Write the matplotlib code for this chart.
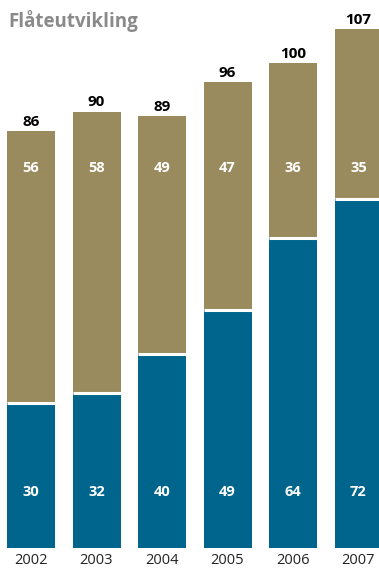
import matplotlib
matplotlib.use("Agg")
import matplotlib.pyplot as plt
import numpy as np

# Data
years = ["2002", "2003", "2004", "2005", "2006", "2007"]
blue_vals = [30, 32, 40, 49, 64, 72]
olive_vals = [56, 58, 49, 47, 36, 35]
totals = [86, 90, 89, 96, 100, 107]

blue = "#00658c"
olive = "#9a8b5e"

plt.rcParams["font.family"] = ["Open Sans", "DejaVu Sans"]

W, H = 379, 569
fig = plt.figure(figsize=(W / 100, H / 100), dpi=100)

# axes in pixel terms: baseline at 548 px from top, 65.5 px between bars
base = 548
ax = fig.add_axes([0, (H - base) / H, 1, base / H])
step = 65.5
x0 = 31
ax.set_xlim(-x0 / step, (W - x0) / step)
ppu = 4.85
ax.set_ylim(0, base / ppu)
ax.axis("off")

x = np.arange(len(years))
w = 48 / step
ax.bar(x, blue_vals, width=w, color=blue, linewidth=0)
ax.bar(x, olive_vals, width=w, bottom=blue_vals, color=olive, linewidth=0)
# white separator between the two segments
ax.hlines(blue_vals, x - w / 2, x + w / 2, color="white", linewidth=2.2)

for i in range(len(years)):
    ax.text(x[i], 11.5, str(blue_vals[i]), ha="center", va="center",
            color="white", fontsize=10.5, fontweight="bold")
    ax.text(x[i], 78.4, str(olive_vals[i]), ha="center", va="center",
            color="white", fontsize=10.5, fontweight="bold")
    ax.annotate(str(totals[i]), (x[i], totals[i]), xytext=(0, 1.5),
                textcoords="offset points", ha="center", va="bottom",
                fontsize=11, fontweight="bold", color="black")
    ax.annotate(years[i], (x[i], 0), xytext=(0, -3.5),
                textcoords="offset points", ha="center", va="top",
                fontsize=10.5, color="#222222", annotation_clip=False)

fig.text(8 / W, 1 - 21 / H, "Flåteutvikling", ha="left", va="center",
         fontsize=13.5, fontweight="bold", color="#8a8a8a")

fig.savefig("out.png", dpi=100)
